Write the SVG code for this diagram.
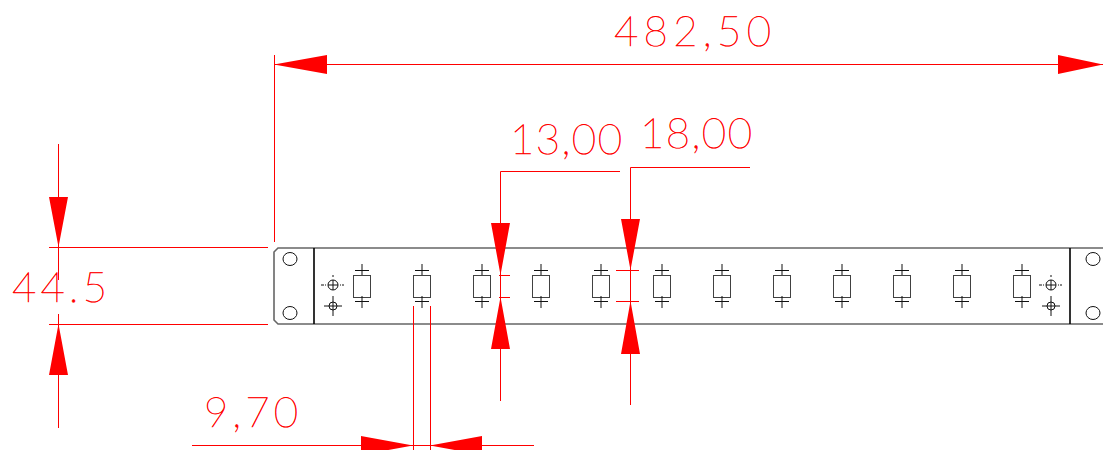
<svg xmlns="http://www.w3.org/2000/svg" width="1103" height="450" viewBox="0 0 1103 450">
<style>
.d{stroke:#f00;stroke-width:1;fill:none}
.a{fill:#f00;stroke:none}
.t{fill:#f00;stroke:#f00;stroke-width:.55;font-family:"Lato","Liberation Sans",sans-serif;font-weight:100;font-size:42px;text-rendering:geometricPrecision}
.p{stroke:#666;stroke-width:1.6;fill:none}
.k{stroke:#111;stroke-width:1;fill:none}
.b{stroke:#000;stroke-width:1.6;fill:none}
</style>
<defs>
<g id="m"><rect class="k" x="-8.500" y="275.500" width="17" height="22" stroke-opacity=".8"/><path class="k" d="M0 264V275M-7 270.500H7M0 296V308M-7 301.500H7"/></g>
<g id="f"><circle class="k" cx="0" cy="285" r="5"/><circle class="k" cx="0" cy="306" r="4"/><path class="k" d="M-5 285H5M0 280V290M-9 306H9M0 296V316"/><path class="k" d="M-12 285H-9M-8 285H-7M7 285H8M9 285H11M0 275V277"/></g>
</defs>
<g id="panel">
<path class="p" d="M1103 248H278L274 252V320L278 324H1103"/>
<path class="b" d="M314 248V324M1070 248V324"/>
<ellipse class="k" cx="290" cy="259" rx="7" ry="6.500"/><ellipse class="k" cx="290" cy="313" rx="7" ry="6.500"/>
<ellipse class="k" cx="1093" cy="259" rx="7" ry="6.500"/><ellipse class="k" cx="1093" cy="313" rx="7" ry="6.500"/>
</g>
<g id="fix-left"><use href="#f" x="333"/></g>
<g id="fix-right"><use href="#f" x="1051"/></g>
<g id="modules">
<use href="#m" x="362"/><use href="#m" x="422"/><use href="#m" x="482"/><use href="#m" x="541"/><use href="#m" x="601"/><use href="#m" x="662"/><use href="#m" x="722"/><use href="#m" x="782"/><use href="#m" x="842"/><use href="#m" x="902"/><use href="#m" x="962"/><use href="#m" x="1022"/>
</g>
<g id="connectors">
<path class="d" d="M274.500 55V242M274 64.500H1103"/>
<path class="a" d="M274 64.500L327 55V74ZM1103 64.500L1058 55V74Z"/>
<path class="d" d="M58.500 144V280M58.500 314V428M49 247.500H268M49 324.500H268"/>
<path class="a" d="M58.500 247L49 197H68ZM58.500 324L49 375H68Z"/>
<path class="d" d="M620 171.500H500.500V401M499 275.500H510M499 297.500H510"/>
<path class="a" d="M500.500 275L491 223H510ZM500.500 297L491 349H510Z"/>
<path class="d" d="M750 167.500H630.500V405M616 270.500H639M616 301.500H639"/>
<path class="a" d="M630.500 270L621 219H640ZM630.500 301L621 354H640Z"/>
<path class="d" d="M413.500 306V450M430.500 306V450M192 445.500H534"/>
<path class="a" d="M413 445.500L361 436V455ZM430 445.500L482 436V455Z"/>
</g>
<g id="labels">
<text class="t" x="614" y="46" textLength="157">482,50</text>
<text class="t" x="510" y="154" textLength="112">13,00</text>
<text class="t" x="640" y="148" textLength="112">18,00</text>
<text class="t" x="204" y="427" textLength="94">9,70</text>
<text class="t" x="12" y="302" textLength="95">44.5</text>
</g>
</svg>
